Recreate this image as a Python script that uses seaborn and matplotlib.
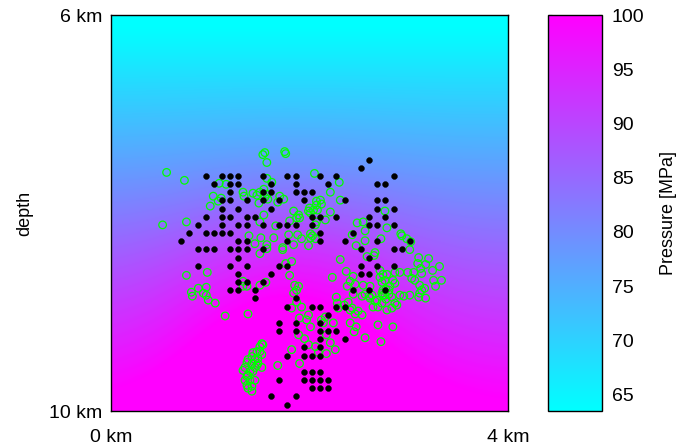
import numpy as np
import pandas as pd
import matplotlib
matplotlib.use("Agg")
import matplotlib.pyplot as plt
import seaborn as sns

# ---------------------------------------------------------------
# Pressure field (MPa) on a coarse grid: rows = depth, cols = x
# ---------------------------------------------------------------
grid_x = [0.0, 0.5, 1.0, 1.5, 2.0, 2.5, 3.0, 3.5, 4.0]
grid_depth = [6.0, 6.5, 7.0, 7.5, 8.0, 8.5, 9.0, 9.5, 10.0]
pressure = [
    [62.0, 62.0, 62.0, 62.0, 62.0, 62.0, 62.0, 62.0, 62.0],
    [66.9, 66.9, 67.0, 67.0, 67.0, 67.0, 66.9, 66.9, 66.9],
    [71.8, 71.9, 72.1, 72.3, 72.3, 72.2, 72.0, 71.8, 71.8],
    [76.8, 77.1, 77.8, 78.5, 78.6, 78.0, 77.3, 76.8, 76.7],
    [81.9, 82.8, 84.5, 86.1, 86.3, 84.9, 83.1, 82.0, 81.6],
    [87.1, 88.8, 91.8, 94.7, 95.0, 92.5, 89.3, 87.3, 86.6],
    [92.2, 94.4, 98.4, 102.2, 102.6, 99.2, 95.1, 92.5, 91.5],
    [97.0, 99.1, 103.0, 106.7, 107.1, 103.8, 99.8, 97.3, 96.4],
    [101.7, 103.2, 105.9, 108.5, 108.8, 106.5, 103.6, 101.9, 101.2],
]
p_min, p_max = 63.5, 100.0
cbar_ticks = [65, 70, 75, 80, 85, 90, 95, 100]

# ---------------------------------------------------------------
# Regular sensor nodes: column indices occupied on each row
# ---------------------------------------------------------------
node_x0, node_dx = 0.954, 0.0823        # km
node_d0, node_dd = 7.626, 0.0825        # km
node_cols_by_row = {
    -2: [20],
    -1: [19],
    0: [0, 2, 3, 4, 7, 10, 11, 14, 16, 23],
    1: [1, 3, 4, 8, 11, 15, 21, 22],
    2: [3, 7, 8, 11, 12, 13],
    3: [2, 3, 5, 7, 9, 12, 17, 21, 22],
    4: [2, 4, 8, 21, 23],
    5: [0, 2, 3, 5, 6, 13, 14, 16, 20, 22],
    6: [-1, 2, 4, 5, 7, 9, 10, 11, 13, 20, 21, 23],
    7: [-2, 0, 1, 2, 3, 14, 18],
    8: [-3, 4, 5, 10, 14, 17, 21, 25],
    9: [-1, 0, 1, 3, 4, 5, 7, 19, 23, 24],
    10: [4, 20],
    11: [-1, 3, 5, 9, 10, 19, 21, 23],
    12: [4, 8, 19, 20],
    13: [4, 5, 7],
    14: [3, 4, 6, 18, 20, 22],
    15: [6, 11],
    16: [10, 13, 14, 16, 17],
    17: [15],
    18: [9, 11, 14],
    19: [9, 11, 14, 15, 16],
    20: [14, 17],
    21: [12, 14],
    22: [10, 12, 13, 14],
    24: [12, 13, 14],
    25: [9, 12, 13, 14, 15],
    26: [13, 14, 15],
    27: [8, 11],
    28: [10],
}

# ---------------------------------------------------------------
# Located events (x in km, depth in km)
# ---------------------------------------------------------------
event_x = [
    0.56, 0.74, 1.09, 1.16, 1.03, 1.11, 1.08, 1.33, 1.34, 1.00, 0.76, 0.52, 1.39, 0.97, 0.76,
    1.53, 1.55, 1.75, 1.76, 1.57, 2.05, 2.30, 1.57, 1.62, 1.43, 1.47, 1.50, 1.49, 1.54, 1.55,
    1.57, 1.58, 1.70, 1.74, 1.68, 2.21, 2.31, 2.07, 2.11, 2.12, 2.07, 1.84, 1.89, 1.90, 1.87,
    1.99, 2.00, 2.04, 2.08, 2.01, 2.21, 2.16, 2.07, 1.54, 1.50, 1.80, 1.66, 2.06, 1.51, 1.64,
    1.79, 1.88, 1.92, 2.01, 2.03, 2.01, 2.06, 1.45, 1.57, 1.57, 1.84, 1.99, 1.73, 1.73, 1.50,
    2.31, 1.76, 1.82, 2.37,
    2.76, 2.48, 2.54, 2.56, 2.78, 2.92, 2.93, 2.98, 3.02, 2.72, 2.56, 2.47, 3.01, 2.43, 2.66,
    2.65, 2.58, 3.10, 3.20, 3.17, 3.09, 3.12, 3.24, 3.31, 3.13, 2.71, 2.74, 2.78, 2.86, 2.91,
    2.99, 3.05,
    2.44, 2.46, 2.44, 2.56, 2.60, 2.54, 2.61, 2.71, 2.73, 2.76, 2.84, 2.86, 2.80, 2.74, 2.77,
    2.73, 2.66, 2.64, 2.69, 2.78, 2.83, 2.88, 2.73, 2.74, 2.91, 2.95, 3.01, 3.03, 3.06, 3.11,
    3.13, 3.11, 3.17, 3.25, 3.27, 3.33, 2.43, 2.46, 2.53, 2.41, 2.47, 2.45, 2.69, 2.84, 2.56,
    2.72, 2.41, 2.38, 2.53, 2.63, 2.61, 2.77, 2.76, 2.80, 2.83, 2.86, 2.68, 2.81, 3.10, 3.16,
    2.49, 2.23, 2.27, 2.28, 2.35, 2.39, 2.41, 2.29, 2.24, 2.21, 2.26,
    1.80, 1.85, 1.89, 1.87, 1.84, 1.87, 1.82, 1.92, 1.90, 1.99, 1.97, 2.01, 2.16, 2.12, 2.14,
    2.17, 2.17, 2.09, 2.06, 1.99, 1.95, 1.89, 1.82, 1.90, 1.68, 1.50, 1.56,
    0.81, 0.82, 0.88, 0.96, 0.93, 0.96, 0.98, 1.05, 1.15, 1.38, 1.33, 1.37, 1.33,
    1.52, 1.50, 1.47, 1.43, 1.42, 1.45, 1.48, 1.52, 1.48, 1.52, 1.45, 1.42, 1.38, 1.37, 1.35,
    1.33, 1.40, 1.43, 1.38, 1.37, 1.35, 1.40, 1.37, 1.42, 1.45, 1.42, 1.38, 1.47, 1.50, 1.53,
]
event_depth = [
    7.59, 7.67, 7.70, 7.71, 7.83, 7.85, 7.88, 7.79, 7.83, 7.93, 8.09, 8.12, 8.23, 8.60, 8.63,
    7.41, 7.39, 7.38, 7.40, 7.49, 7.60, 7.69, 7.65, 7.69, 7.80, 7.82, 7.79, 7.90, 7.76, 7.84,
    7.81, 7.86, 7.83, 7.86, 7.89, 7.79, 7.87, 7.88, 7.87, 7.91, 7.92, 7.98, 8.02, 8.05, 8.05,
    7.98, 7.95, 7.97, 7.97, 8.00, 7.99, 8.07, 8.09, 8.02, 8.09, 8.08, 8.13, 8.12, 8.25, 8.25,
    8.22, 8.22, 8.26, 8.21, 8.23, 8.25, 8.26, 8.31, 8.32, 8.36, 8.32, 8.33, 8.35, 8.37, 8.41,
    8.47, 8.51, 8.49, 8.59,
    7.98, 8.10, 8.09, 8.18, 8.15, 8.21, 8.23, 8.26, 8.29, 8.26, 8.28, 8.33, 8.37, 8.22, 8.40,
    8.43, 8.44, 8.45, 8.46, 8.52, 8.51, 8.56, 8.58, 8.54, 8.61, 8.58, 8.62, 8.62, 8.60, 8.60,
    8.60, 8.60,
    8.64, 8.72, 8.82, 8.82, 8.84, 8.73, 8.74, 8.65, 8.70, 8.68, 8.68, 8.71, 8.78, 8.83, 8.87,
    8.91, 8.89, 8.95, 8.95, 8.98, 8.96, 8.93, 8.81, 8.78, 8.83, 8.84, 8.83, 8.66, 8.68, 8.73,
    8.78, 8.81, 8.86, 8.68, 8.74, 8.68, 8.96, 9.02, 9.03, 9.11, 9.15, 9.20, 9.13, 9.15, 9.26,
    9.30, 8.69, 8.74, 8.84, 8.83, 8.86, 8.77, 8.83, 8.82, 8.85, 8.91, 8.88, 8.74, 8.85, 8.76,
    8.99, 8.65, 8.85, 8.91, 8.93, 8.90, 8.98, 8.96, 9.11, 9.31, 9.38,
    8.63, 8.73, 8.74, 8.78, 8.81, 8.90, 8.96, 8.95, 9.06, 9.03, 9.08, 9.15, 9.05, 9.08, 9.11,
    9.23, 9.42, 9.41, 9.35, 9.33, 9.27, 9.23, 9.38, 9.52, 9.54, 8.73, 8.70,
    8.80, 8.84, 8.76, 8.75, 8.81, 8.83, 8.88, 8.91, 9.04, 9.02, 8.69, 8.74, 8.74,
    9.32, 9.35, 9.40, 9.41, 9.45, 9.48, 9.47, 9.43, 9.52, 9.56, 9.56, 9.52, 9.48, 9.51, 9.56,
    9.59, 9.60, 9.60, 9.64, 9.65, 9.69, 9.69, 9.74, 9.75, 9.69, 9.80, 9.77, 9.54, 9.40, 9.33,
]

# ---------------------------------------------------------------
# Tables for plotting
# ---------------------------------------------------------------
node_rows, node_cols = [], []
for r, cols in node_cols_by_row.items():
    for c in cols:
        node_rows.append(r)
        node_cols.append(c)
nodes = pd.DataFrame({
    "x": node_x0 + node_dx * np.array(node_cols, dtype=float),
    "depth": node_d0 + node_dd * np.array(node_rows, dtype=float),
})
events = pd.DataFrame({"x": event_x, "depth": event_depth})
field = np.array(pressure)

# ---------------------------------------------------------------
# Figure
# ---------------------------------------------------------------
sns.set_style("white")
plt.rcParams["font.family"] = ["Liberation Sans", "DejaVu Sans"]
for key in ("text.color", "axes.labelcolor", "xtick.color", "ytick.color"):
    plt.rcParams[key] = "black"

fig = plt.figure(figsize=(6.79, 4.48), dpi=100)
ax = fig.add_axes([111 / 679, 1 - 411 / 448, 397 / 679, 396 / 448])
cax = fig.add_axes([548 / 679, 1 - 411 / 448, 54 / 679, 396 / 448])

half_dx = (grid_x[1] - grid_x[0]) / 2
half_dd = (grid_depth[1] - grid_depth[0]) / 2
im = ax.imshow(
    field, cmap="cool", vmin=p_min, vmax=p_max, origin="upper",
    extent=[grid_x[0] - half_dx, grid_x[-1] + half_dx,
            grid_depth[-1] + half_dd, grid_depth[0] - half_dd],
    interpolation="bicubic", aspect="auto", zorder=0,
)

sns.scatterplot(data=events, x="x", y="depth", ax=ax, marker="o", s=30,
                facecolor="none", edgecolor=(0.0, 1.0, 0.0), linewidth=0.9,
                legend=False, zorder=2)
sns.scatterplot(data=nodes, x="x", y="depth", ax=ax, marker="o", s=18,
                color="black", edgecolor="black", linewidth=0.3,
                legend=False, zorder=3)

ax.set_xlim(0, 4)
ax.set_ylim(10, 6)
ax.set_xticks([0, 4])
ax.set_xticklabels(["0 km", "4 km"])
ax.set_yticks([6, 10])
ax.set_yticklabels(["6 km", "10 km"])
ax.tick_params(axis="x", length=0, pad=13, labelsize=14, colors="black")
ax.tick_params(axis="y", length=0, pad=6, labelsize=14, colors="black")
ax.set_xlabel("")
ax.set_ylabel("depth", fontsize=13, labelpad=12, color="black")
for s in ax.spines.values():
    s.set_visible(True)
    s.set_color("black")
    s.set_linewidth(1.0)

cb = fig.colorbar(im, cax=cax, ticks=cbar_ticks)
cb.outline.set_edgecolor("black")
cb.outline.set_linewidth(1.0)
cax.tick_params(axis="y", direction="in", left=True, right=True, length=3,
                width=0.8, labelsize=14, pad=7, colors="black")
cax.set_ylabel("Pressure [MPa]", fontsize=13, labelpad=11, color="black")

fig.savefig("out.png", dpi=100)
